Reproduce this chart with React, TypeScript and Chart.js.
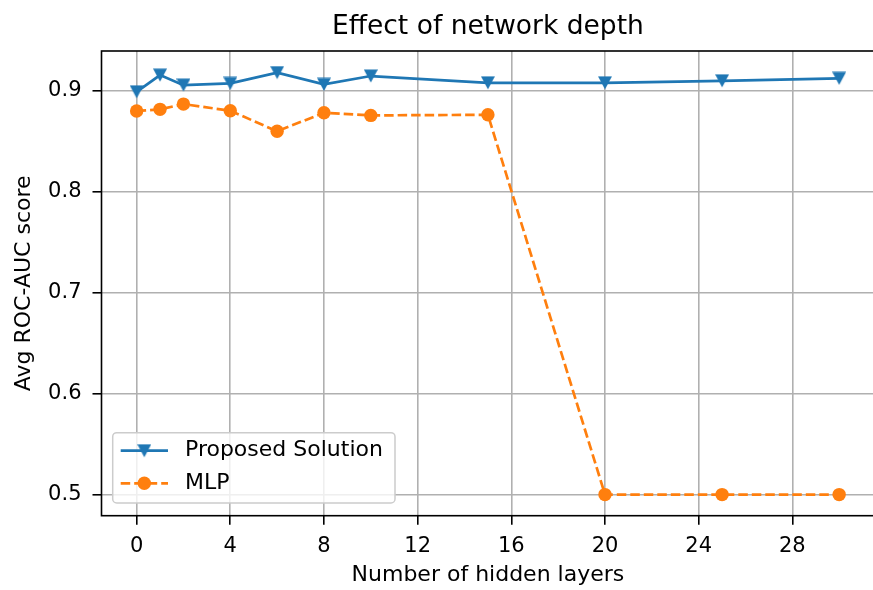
import React, { useEffect, useRef } from "react";
import { Chart, registerables } from "chart.js";

Chart.register(...registerables);

const layers = [0, 1, 2, 4, 6, 8, 10, 15, 20, 25, 30];
const proposed = [0.899, 0.9155, 0.9056, 0.9073, 0.918, 0.9063, 0.9146, 0.9079, 0.9079, 0.9099, 0.9123];
const mlp = [0.88, 0.8816, 0.8868, 0.8802, 0.8599, 0.8782, 0.8756, 0.8762, 0.5, 0.5, 0.5];
const xTicks = [0, 4, 8, 12, 16, 20, 24, 28];
const yTicks = [0.5, 0.6, 0.7, 0.8, 0.9];
const seriesNames = ["Proposed Solution", "MLP"];
const titleText = "Effect of network depth";
const xLabel = "Number of hidden layers";
const yLabel = "Avg ROC-AUC score";

const FONT = "'DejaVu Sans', sans-serif";
const BLUE = "#1f77b4";
const ORANGE = "#ff7f0e";
const DASH = [9.5, 4];

function makeTriangle(color: string) {
  const c = document.createElement("canvas");
  c.width = 14;
  c.height = 14;
  const g = c.getContext("2d")!;
  g.fillStyle = color;
  g.beginPath();
  g.moveTo(0, 0.5);
  g.lineTo(14, 0.5);
  g.lineTo(7, 13.5);
  g.closePath();
  g.fill();
  return c;
}

const framePlugin = {
  id: "frame",
  afterDatasetsDraw(chart: any) {
    const { ctx, chartArea: a } = chart;
    ctx.save();
    ctx.strokeStyle = "#000";
    ctx.lineWidth = 1.6;
    ctx.strokeRect(a.left, a.top, a.right - a.left, a.bottom - a.top);
    ctx.restore();
  },
};

function makeLegendPlugin(tri: HTMLCanvasElement) {
  return {
    id: "boxLegend",
    afterDraw(chart: any) {
      const { ctx, chartArea: a } = chart;
      const left = a.left + 11.2;
      const bottom = a.bottom - 12.7;
      const w = 282.3;
      const h = 70.3;
      const top = bottom - h;
      ctx.save();
      ctx.beginPath();
      ctx.roundRect(left, top, w, h, 4);
      ctx.fillStyle = "rgba(255,255,255,0.8)";
      ctx.fill();
      ctx.strokeStyle = "#cccccc";
      ctx.lineWidth = 1.5;
      ctx.stroke();
      const rows = [top + 18, top + 50.6];
      chart.data.datasets.forEach((ds: any, i: number) => {
        const y = rows[i];
        ctx.save();
        ctx.strokeStyle = ds.borderColor;
        ctx.lineWidth = ds.borderWidth;
        ctx.setLineDash(ds.borderDash || []);
        ctx.beginPath();
        ctx.moveTo(left + 8, y);
        ctx.lineTo(left + 55.3, y);
        ctx.stroke();
        ctx.restore();
        const mx = left + 31.6;
        if (i === 0) {
          ctx.drawImage(tri, mx - 7, y - 7);
        } else {
          ctx.beginPath();
          ctx.arc(mx, y, 6.7, 0, Math.PI * 2);
          ctx.fillStyle = ORANGE;
          ctx.fill();
        }
        ctx.fillStyle = "#000";
        ctx.font = `22px ${FONT}`;
        ctx.textBaseline = "middle";
        ctx.textAlign = "left";
        ctx.fillText(ds.label, left + 72.3, y);
      });
      ctx.restore();
    },
  };
}

export default function App() {
  const ref = useRef<HTMLCanvasElement | null>(null);

  useEffect(() => {
    if (!ref.current) return;
    const tri = makeTriangle(BLUE);
    const chart = new Chart(ref.current, {
      type: "line",
      data: {
        datasets: [
          {
            label: seriesNames[0],
            data: layers.map((x, i) => ({ x, y: proposed[i] })),
            borderColor: BLUE,
            backgroundColor: BLUE,
            borderWidth: 2.7,
            pointStyle: tri as any,
            pointRadius: 7,
            tension: 0,
          },
          {
            label: seriesNames[1],
            data: layers.map((x, i) => ({ x, y: mlp[i] })),
            borderColor: ORANGE,
            backgroundColor: ORANGE,
            borderWidth: 2.7,
            borderDash: DASH,
            pointStyle: "circle",
            pointRadius: 6.7,
            pointBorderWidth: 0,
            tension: 0,
          },
        ],
      },
      options: {
        animation: false,
        responsive: false,
        devicePixelRatio: 1,
        layout: { padding: { left: 0, right: 3, top: 0, bottom: 0 } },
        plugins: {
          legend: { display: false },
          tooltip: { enabled: false },
          title: {
            display: true,
            fullSize: false,
            text: titleText,
            color: "#000",
            font: { family: FONT, size: 26.5, weight: "normal", lineHeight: 1 },
            padding: { top: 14, bottom: 10.5 },
          },
        },
        scales: {
          x: {
            type: "linear",
            min: -1.5,
            max: 31.5,
            afterBuildTicks: (s: any) => {
              s.ticks = xTicks.map((v) => ({ value: v }));
            },
            afterFit: (s: any) => {
              s.height = 74.3;
            },
            ticks: {
              font: { family: FONT, size: 21 },
              color: "#000",
              padding: 9,
              maxRotation: 0,
              autoSkip: false,
              callback: (v: any) => String(v),
            },
            grid: { color: "#b0b0b0", lineWidth: 1.6, tickColor: "#000", tickWidth: 1.6, tickLength: 9 },
            border: { display: false },
            title: {
              display: true,
              text: xLabel,
              color: "#000",
              font: { family: FONT, size: 22, lineHeight: 1 },
              padding: { top: 0, bottom: 3.6 },
            },
          },
          y: {
            type: "linear",
            min: 0.4791,
            max: 0.9394,
            afterBuildTicks: (s: any) => {
              s.ticks = yTicks.map((v) => ({ value: v }));
            },
            afterFit: (s: any) => {
              s.width = 101.5;
            },
            ticks: {
              font: { family: FONT, size: 21 },
              color: "#000",
              padding: 11,
              callback: (v: any) => Number(v).toFixed(1),
            },
            grid: { color: "#b0b0b0", lineWidth: 1.6, tickColor: "#000", tickWidth: 1.6, tickLength: 9 },
            border: { display: false },
            title: {
              display: true,
              text: yLabel,
              color: "#000",
              font: { family: FONT, size: 22, lineHeight: 1 },
              padding: { top: 13.4, bottom: 0 },
            },
          },
        },
      } as any,
      plugins: [framePlugin, makeLegendPlugin(tri)],
    });
    return () => chart.destroy();
  }, []);

  return (
    <div
      style={{
        position: "fixed",
        left: 0,
        top: 0,
        width: 873,
        height: 590,
        overflow: "hidden",
        background: "#fff",
      }}
    >
      <canvas ref={ref} width={884} height={590} style={{ display: "block", width: 884, height: 590 }} />
    </div>
  );
}
